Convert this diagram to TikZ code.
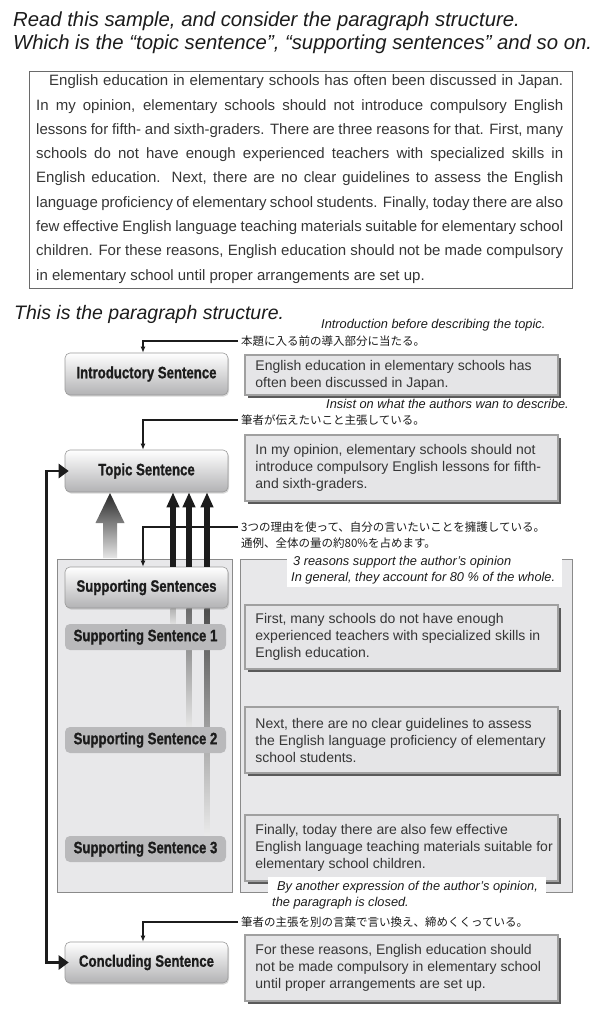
\documentclass[tikz,border=0pt]{standalone}
\usepackage{fontspec}
\setmainfont{Liberation Sans}
\newfontfamily\condb{Liberation Sans}[FakeStretch=0.8,FakeBold=1]
\newfontfamily\jpfont{Noto Sans CJK JP}
\usetikzlibrary{arrows.meta,shadows,calc}
\pgfdeclarelayer{back}
\pgfdeclarelayer{mid}
\pgfsetlayers{back,mid,main}
\definecolor{ink}{HTML}{1C1C1C}
\definecolor{txt}{HTML}{363636}
\definecolor{pbord}{HTML}{6A6A6A}
\definecolor{lblborder}{HTML}{9A9A9A}
\definecolor{lblbot}{HTML}{B2B2B4}
\definecolor{ssfill}{HTML}{B9B9BB}
\definecolor{tfill}{HTML}{E5E5E7}
\definecolor{tborder}{HTML}{A0A0A0}
\definecolor{tshadow}{HTML}{5A5A5A}
\definecolor{frfill}{HTML}{E8E8EA}
\definecolor{frborder}{HTML}{8A8A8A}
\begin{document}
\begin{tikzpicture}[x=1pt,y=-1pt,
 ttl/.style={anchor=base west,inner sep=0pt,font=\itshape\fontsize{20.3}{24}\selectfont,text=ink},
 pline/.style={anchor=base west,inner sep=0pt,font=\fontsize{15}{18}\selectfont,text=txt},
 anno/.style={anchor=base west,inner sep=0pt,font=\itshape\fontsize{12.8}{15}\selectfont,text=ink},
 jp/.style={anchor=west,inner sep=0pt,font=\jpfont\fontsize{11.5}{13}\selectfont,text=ink},
 lbl/.style={rounded corners=5pt,draw=lblborder,line width=0.6pt,top color=white,bottom color=lblbot,minimum width=163pt,minimum height=42pt,inner sep=0pt,font=\condb\bfseries\fontsize{16.5}{18}\selectfont,text=ink,drop shadow={shadow xshift=1pt,shadow yshift=-1.5pt,opacity=0.3}},
 sslbl/.style={rounded corners=5pt,fill=ssfill,minimum width=161pt,minimum height=26pt,inner sep=0pt,font=\condb\bfseries\fontsize{16.5}{18}\selectfont,text=ink},
 tbox/.style={fill=tfill,draw=tborder,line width=1.5pt,minimum width=313pt,inner sep=0pt,drop shadow={shadow xshift=3.2pt,shadow yshift=-3.2pt,fill=tshadow,opacity=1}},
 ttext/.style={anchor=west,align=left,inner sep=0pt,font=\fontsize{14}{17}\selectfont,text=txt},
 panel/.style={anchor=north west,fill=frfill,draw=frborder,line width=0.8pt,inner sep=0pt,outer sep=0pt},
 conn/.style={draw=ink,line width=1.1pt,-{Latex[length=6pt,width=5pt]}},
 dshaft/.style={draw=ink,line width=5.5pt,-{Triangle[length=15pt,width=12pt]}},
 fb/.style={draw=ink,line width=2.8pt,{Triangle[length=10pt,width=14pt]}-{Triangle[length=10pt,width=14pt]},shorten <=-4pt,shorten >=-4pt}
]
\useasboundingbox (0,0) rectangle (605,1024);
\begin{pgfonlayer}{back}
\fill[white] (0,0) rectangle (605,1024);
\end{pgfonlayer}

% titles
\node[ttl] (title1) at (13,27) {Read this sample, and consider the paragraph structure.};
\node[ttl] (title2) at (13,50) {Which is the “topic sentence”, “supporting sentences” and so on.};

% paragraph
\node[draw=pbord,line width=0.8pt,anchor=north west,minimum width=543pt,minimum height=217pt,inner sep=0pt] (parabox) at (29,71) {};
\node[pline] (p1) at (36,86) {\hbox to 527pt{\hskip13pt English education in elementary schools has often been discussed in Japan.}};
\node[pline] (p2) at (36,110.25) {\hbox to 527pt{In my opinion, elementary schools should not introduce compulsory English}};
\node[pline] (p3) at (36,134.5) {\hbox to 527pt{lessons for fifth- and sixth-graders. There are three reasons for that. First, many}};
\node[pline] (p4) at (36,158.75) {\hbox to 527pt{schools do not have enough experienced teachers with specialized skills in}};
\node[pline] (p5) at (36,183) {\hbox to 527pt{English education. Next, there are no clear guidelines to assess the English}};
\node[pline] (p6) at (36,207.25) {\hbox to 527pt{language proficiency of elementary school students. Finally, today there are also}};
\node[pline] (p7) at (36,231.5) {\hbox to 527pt{few effective English language teaching materials suitable for elementary school}};
\node[pline] (p8) at (36,255.75) {\hbox to 527pt{children. For these reasons, English education should not be made compulsory}};
\node[pline] (p9) at (36,280) {in elementary school until proper arrangements are set up.};

\node[ttl,font=\itshape\fontsize{19.5}{23}\selectfont] (title3) at (14,319) {This is the paragraph structure.};

% panels
\begin{pgfonlayer}{back}
\node[panel,minimum width=175pt,minimum height=333pt] (supframe) at (57,559) {};
\node[panel,minimum width=332pt,minimum height=333pt] (rframe) at (240,559) {};
\end{pgfonlayer}

% label boxes
\node[lbl] (intro) at (146.5,374) {Introductory Sentence};
\node[lbl] (topic) at (146.5,471) {Topic Sentence};
\node[lbl,minimum height=41pt] (ss) at (146.5,587.5) {Supporting Sentences};
\node[sslbl] (ss1) at (145.5,637) {Supporting Sentence 1};
\node[sslbl] (ss2) at (145.5,740) {Supporting Sentence 2};
\node[sslbl] (ss3) at (145.5,849) {Supporting Sentence 3};
\node[lbl,minimum height=41pt] (concl) at (146.5,962.5) {Concluding Sentence};

% text boxes
\node[tbox,minimum height=40pt] (t1) at (401.5,375) {};
\node[ttext] (t1x) at ([xshift=11pt]t1.west) {English education in elementary schools has\\often been discussed in Japan.};
\node[tbox,minimum height=66pt] (t2) at (401.5,468) {};
\node[ttext] (t2x) at ([xshift=11pt]t2.west) {In my opinion, elementary schools should not\\introduce compulsory English lessons for fifth-\\and sixth-graders.};
\node[tbox,minimum height=64pt] (t3) at (401.5,637) {};
\node[ttext] (t3x) at ([xshift=11pt]t3.west) {First, many schools do not have enough\\experienced teachers with specialized skills in\\English education.};
\node[tbox,minimum height=66pt] (t4) at (401.5,740) {};
\node[ttext] (t4x) at ([xshift=11pt]t4.west) {Next, there are no clear guidelines to assess\\the English language proficiency of elementary\\school students.};
\node[tbox,minimum height=66pt] (t5) at (401.5,848) {};
\node[ttext] (t5x) at ([xshift=11pt]t5.west) {Finally, today there are also few effective\\English language teaching materials suitable for\\elementary school children.};
\node[tbox,minimum height=66pt] (t6) at (401.5,968) {};
\node[ttext] (t6x) at ([xshift=11pt]t6.west) {For these reasons, English education should\\not be made compulsory in elementary school\\until proper arrangements are set up.};

% annotations
\node[anno] (a1) at (321,328.5) {Introduction before describing the topic.};
\node[jp] (j1) at (241,341) {本題に入る前の導入部分に当たる。};
\node[anno] (a2) at (326,408.5) {Insist on what the authors wan to describe.};
\node[jp] (j2) at (241,420) {筆者が伝えたいこと主張している。};
\node[jp] (j3a) at (241,527) {3つの理由を使って、自分の言いたいことを擁護している。};
\node[jp] (j3b) at (241,543) {通例、全体の量の約80\%を占めます。};
\fill[white] (287,557) rectangle (562,587);
\node[anno] (a3a) at (293,565.5) {3 reasons support the author’s opinion};
\node[anno] (a3b) at (291,581.5) {In general, they account for 80 \% of the whole.};
\fill[white] (268,877) rectangle (546,894);
\node[anno] (a4a) at (277,890.5) {By another expression of the author’s opinion,};
\node[anno] (a4b) at (272,906.5) {the paragraph is closed.};
\node[jp] (j4) at (241,922) {筆者の主張を別の言葉で言い換え、締めくくっている。};

% annotation connectors
\draw[conn] ([xshift=-3pt]j1.west) -| ([xshift=-3.5pt]intro.north);
\draw[conn] ([xshift=-3pt]j2.west) -| ([xshift=-3.5pt]topic.north);
\draw[conn] ([xshift=-3pt]j3a.west) -| ([xshift=-3.5pt]ss.north);
\draw[conn] ([xshift=-3pt]j4.west) -| ([xshift=-3.5pt]concl.north);

% arrows from supporting sentences to topic
\coordinate (x1) at (173,0);
\coordinate (x2) at (189,0);
\coordinate (x3) at (207,0);
\begin{pgfonlayer}{mid}
\shade[top color=black!30,bottom color=black!12] ($(ss.south -| x1)+(-2.75,0)$) rectangle ($(ss1.north -| x1)+(2.75,0)$);
\shade[top color=black!58,bottom color=black!10] ($(ss.south -| x2)+(-2.75,0)$) rectangle ($(ss2.north -| x2)+(2.75,0)$);
\shade[top color=black!70,bottom color=black!8] ($(ss.south -| x3)+(-2.75,0)$) rectangle ($(ss3.north -| x3)+(2.75,0)$);
\end{pgfonlayer}
\draw[dshaft] (ss.north -| x1) -- (topic.south -| x1);
\draw[dshaft] (ss.north -| x2) -- (topic.south -| x2);
\draw[dshaft] (ss.north -| x3) -- (topic.south -| x3);

% big shaded arrow
\shade[top color=black!85,bottom color=black!10] (103,558) -- (103,523) -- (95.5,523) -- (110,493) -- (124.5,523) -- (117,523) -- (117,558) -- cycle;

% feedback line
\draw[fb] (topic.west) -- ++(-18,0) |- (concl.west);
\end{tikzpicture}
\end{document}
